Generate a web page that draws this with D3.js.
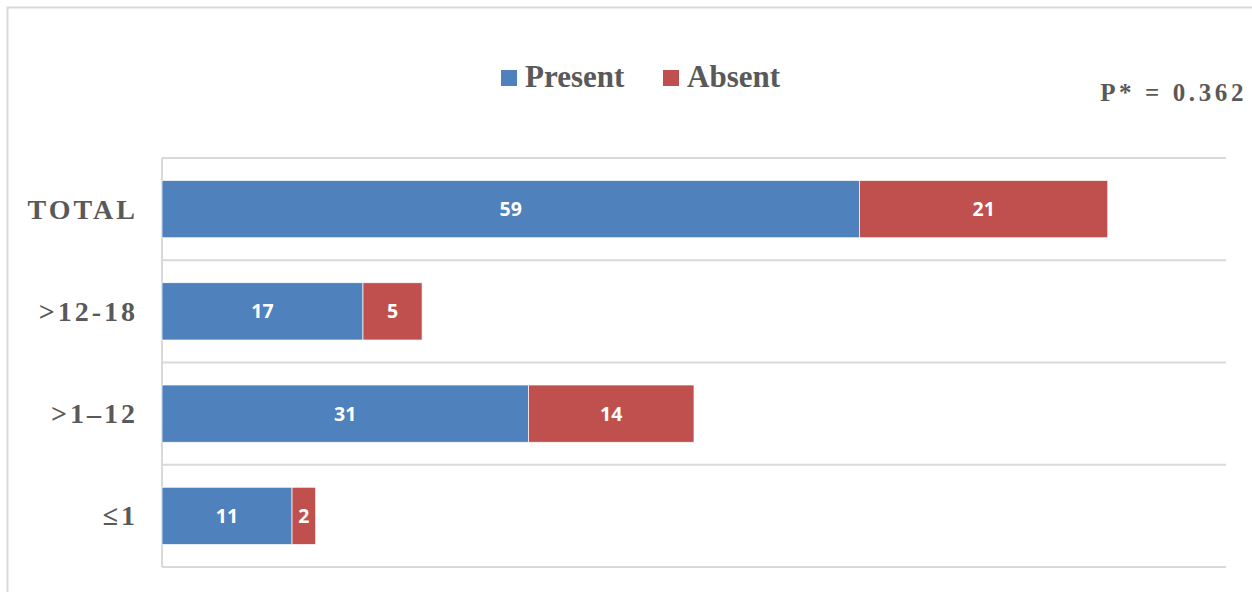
<!DOCTYPE html>
<html><head><meta charset="utf-8">
<script src="https://cdn.jsdelivr.net/npm/d3@7"></script>
<style>body{margin:0;background:#fff}svg{display:block}</style>
</head><body>
<script>
const categories = ["TOTAL", ">12-18", ">1\u201312", "\u22641"];
const present = [59, 17, 31, 11];
const absent = [21, 5, 14, 2];
const seriesNames = ["Present", "Absent"];
const pText = "P* = 0.362";

const W = 1252, H = 592;
const colors = ["#4F81BD", "#C0504D"];
const svg = d3.select("body").append("svg").attr("width", W).attr("height", H);

// outer chart border
svg.append("rect").attr("x", 7.5).attr("y", 7.5).attr("width", 1260).attr("height", 620)
  .attr("fill", "none").attr("stroke", "#d9d9d9").attr("stroke-width", 2);

const m = {left: 162, right: 1226, top: 158, bottom: 567};
const x = d3.scaleLinear().domain([0, 90]).range([m.left, m.right]);
const y = d3.scaleBand().domain(categories).range([m.top, m.bottom]).paddingInner(0.44).paddingOuter(0.22);

// gridlines at band boundaries
const bounds = d3.range(categories.length + 1).map(i => m.top + (m.bottom - m.top) * i / categories.length);
svg.append("g").selectAll("line").data(bounds).join("line")
  .attr("x1", m.left).attr("x2", m.right).attr("y1", d => d).attr("y2", d => d)
  .attr("stroke", "#d9d9d9").attr("stroke-width", 2);
svg.append("line").attr("x1", m.left).attr("x2", m.left).attr("y1", m.top).attr("y2", m.bottom)
  .attr("stroke", "#d9d9d9").attr("stroke-width", 2);

const stackData = categories.map((c, i) => ({cat: c, Present: present[i], Absent: absent[i]}));
const stack = d3.stack().keys(seriesNames)(stackData);

const g = svg.append("g");
stack.forEach((s, si) => {
  const gg = g.append("g");
  gg.selectAll("rect").data(s).join("rect")
    .attr("x", d => x(d[0])).attr("width", d => x(d[1]) - x(d[0]))
    .attr("y", d => y(d.data.cat)).attr("height", y.bandwidth())
    .attr("fill", colors[si]).attr("stroke", "#fff").attr("stroke-width", 0.7);
  gg.selectAll("text").data(s).join("text")
    .attr("x", d => (x(d[0]) + x(d[1])) / 2)
    .attr("y", d => y(d.data.cat) + y.bandwidth() / 2)
    .attr("dy", "0.36em").attr("text-anchor", "middle")
    .attr("fill", "#fff").attr("font-family", "'Open Sans', sans-serif")
    .attr("font-weight", "bold").attr("font-size", 19.5)
    .text(d => d[1] - d[0]);
});

// category axis labels
const yAxis = d3.axisLeft(y).tickSize(0).tickPadding(24);
const ya = svg.append("g").attr("transform", `translate(${m.left},0)`).call(yAxis);
ya.select(".domain").remove();
ya.selectAll("text").attr("font-family", "'Liberation Serif', serif").attr("font-weight", "bold")
  .attr("font-size", 28).attr("fill", "#595959").attr("letter-spacing", "3px").attr("dy", "0.34em");

// legend
const legend = svg.append("g").attr("font-family", "'Liberation Serif', serif").attr("font-weight", "bold")
  .attr("font-size", 31).attr("fill", "#595959");
const legX = [501, 663];
seriesNames.forEach((n, i) => {
  legend.append("rect").attr("x", legX[i]).attr("y", 70).attr("width", 16).attr("height", 16).attr("fill", colors[i]);
  legend.append("text").attr("x", legX[i] + 24).attr("y", 87).text(n);
});

// p value
svg.append("text").attr("x", 1247).attr("y", 101).attr("text-anchor", "end")
  .attr("font-family", "'Liberation Serif', serif").attr("font-weight", "bold")
  .attr("font-size", 25).attr("fill", "#595959").attr("letter-spacing", "3.6px").text(pText);
</script>
</body></html>
